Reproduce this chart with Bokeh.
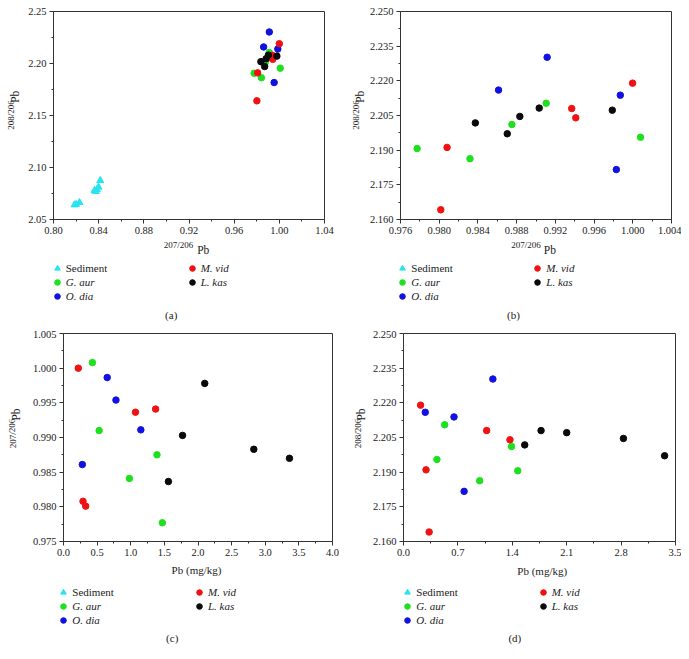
from bokeh.plotting import figure
from bokeh.layouts import column, row
from bokeh.models import Range1d, FixedTicker, NumeralTickFormatter, Label, Legend, LegendItem
from bokeh.embed import file_html
from bokeh.resources import INLINE

FONT = "Liberation Serif"

# ---------------- data ----------------
sed_r76 = [0.8186, 0.8200, 0.8230, 0.8363, 0.8375, 0.8384, 0.8399, 0.8414]
sed_r86 = [2.0641, 2.0645, 2.0663, 2.0779, 2.0770, 2.0788, 2.0811, 2.0875]

mvid_pb = [0.22, 0.29, 0.33, 1.07, 1.37]
mvid_r76 = [1.0000, 0.9808, 0.9801, 0.99365, 0.9941]
mvid_r86 = [2.2190, 2.1910, 2.1641, 2.2080, 2.2040]

gaur_pb = [0.43, 0.53, 0.98, 1.39, 1.47]
gaur_r76 = [1.0008, 0.9910, 0.9841, 0.9875, 0.9777]
gaur_r86 = [2.1955, 2.2105, 2.1863, 2.2011, 2.1906]

odia_pb = [0.28, 0.65, 0.78, 1.15]
odia_r76 = [0.9861, 0.99865, 0.9954, 0.9911]
odia_r86 = [2.2159, 2.2139, 2.1817, 2.2303]

lkas_pb = [1.56, 1.77, 2.10, 2.83, 3.36]
lkas_r76 = [0.98365, 0.9903, 0.9978, 0.9883, 0.9870]
lkas_r86 = [2.2018, 2.2080, 2.2071, 2.2046, 2.1971]

# values as drawn in panel (b)
b_mvid_r76 = [0.98016, 0.98081, 0.99369, 0.99411, 0.99998]
b_mvid_r86 = [2.1642, 2.1912, 2.2080, 2.2040, 2.2190]
b_gaur_r76 = [0.97772, 0.98318, 0.98751, 0.99105, 1.00080]
b_gaur_r86 = [2.1907, 2.1863, 2.2011, 2.2103, 2.1956]
b_odia_r76 = [0.98613, 0.99115, 0.99830, 0.99871]
b_odia_r86 = [2.2160, 2.2302, 2.1816, 2.2138]
b_lkas_r76 = [0.98373, 0.98703, 0.98833, 0.99033, 0.99788]
b_lkas_r86 = [2.2018, 2.1971, 2.2046, 2.2082, 2.2073]

legend_names = ["Sediment", "G. aur", "O. dia", "M. vid", "L. kas"]
captions = ["(a)", "(b)", "(c)", "(d)"]

xt_a = [0.80, 0.84, 0.88, 0.92, 0.96, 1.00, 1.04]
yt_a = [2.05, 2.10, 2.15, 2.20, 2.25]
xt_b = [0.976, 0.980, 0.984, 0.988, 0.992, 0.996, 1.000, 1.004]
yt_b = [2.160, 2.175, 2.190, 2.205, 2.220, 2.235, 2.250]
xt_c = [0.0, 0.5, 1.0, 1.5, 2.0, 2.5, 3.0, 3.5, 4.0]
yt_c = [0.975, 0.980, 0.985, 0.990, 0.995, 1.000, 1.005]
xt_d = [0.0, 0.7, 1.4, 2.1, 2.8, 3.5]
yt_d = [2.160, 2.175, 2.190, 2.205, 2.220, 2.235, 2.250]

COL = {"Sediment": "#26E4F0", "G. aur": "#1EE01E", "O. dia": "#1212E0",
       "M. vid": "#F01212", "L. kas": "#0A0A0A"}
TXT = "#222222"
NAN = float("nan")


def mids(t):
    return [(t[i] + t[i + 1]) / 2 for i in range(len(t) - 1)]


def make_fig(w, h, borders, xt, yt, xfmt, yfmt):
    l, r, t, b = borders
    p = figure(width=w, height=h, output_backend="svg", toolbar_location=None,
               x_range=Range1d(xt[0], xt[-1]), y_range=Range1d(yt[0], yt[-1]),
               min_border_left=l, min_border_right=r, min_border_top=t, min_border_bottom=b)
    p.xgrid.visible = False
    p.ygrid.visible = False
    p.outline_line_color = "#333333"
    p.outline_line_width = 1
    p.background_fill_color = "white"
    p.border_fill_color = "white"
    p.xaxis.ticker = FixedTicker(ticks=xt, minor_ticks=mids(xt))
    p.yaxis.ticker = FixedTicker(ticks=yt, minor_ticks=mids(yt))
    p.xaxis.formatter = NumeralTickFormatter(format=xfmt)
    p.yaxis.formatter = NumeralTickFormatter(format=yfmt)
    for ax in (p.xaxis[0], p.yaxis[0]):
        ax.axis_line_color = "#333333"
        ax.major_tick_line_color = "#333333"
        ax.minor_tick_line_color = "#333333"
        ax.major_tick_out = 4
        ax.major_tick_in = 0
        ax.minor_tick_out = 2
        ax.minor_tick_in = 0
        ax.major_label_text_font = FONT
        ax.major_label_text_font_size = "10.5px"
        ax.major_label_text_color = TXT
    p.xaxis.major_label_standoff = 3
    p.yaxis.major_label_standoff = 3
    return p


def canvas_fig(w, h):
    """Blank figure whose frame is the whole canvas; data units = pixels from top-left."""
    p = figure(width=w, height=h, output_backend="svg", toolbar_location=None,
               x_range=Range1d(0, w), y_range=Range1d(h, 0),
               x_axis_location=None, y_axis_location=None,
               min_border=0, min_border_left=0, min_border_right=0,
               min_border_top=0, min_border_bottom=0)
    p.xgrid.visible = False
    p.ygrid.visible = False
    p.outline_line_color = None
    p.background_fill_color = "white"
    p.border_fill_color = "white"
    return p


def add_text(p, text, x, y, size, align="left", angle=0.0, style="normal"):
    p.add_layout(Label(x=x, y=y, text=text, text_font=FONT, text_font_size=size,
                       text_align=align, text_baseline="middle", angle=angle,
                       text_color=TXT, text_font_style=style))


def plot_series(p, data):
    for name, xs, ys in data:
        if name == "Sediment":
            p.scatter(xs, ys, marker="triangle", size=7, fill_color=COL[name],
                      line_color=COL[name])
        else:
            p.scatter(xs, ys, marker="circle", size=6.5, fill_color=COL[name],
                      line_color=COL[name])


def add_legends(p, h, c1x, c2x, ys):
    # legend keys only: one undrawn (NaN) point per series
    rends = {}
    for n in legend_names:
        mk = "triangle" if n == "Sediment" else "circle"
        rends[n] = p.scatter([NAN], [NAN], marker=mk, fill_color=COL[n], line_color=COL[n])

    def leg(names, mx, ytop, style):
        bottom = ytop - 7 + 14 * len(names)
        L = Legend(items=[LegendItem(label=n, renderers=[rends[n]]) for n in names],
                   location=(mx - 7, h - bottom), orientation="vertical",
                   glyph_width=14, glyph_height=14, label_height=14, label_width=10,
                   spacing=0, padding=0, margin=0, label_standoff=2,
                   border_line_color=None, background_fill_alpha=0,
                   label_text_font=FONT, label_text_font_size="11px",
                   label_text_font_style=style, label_text_color=TXT)
        p.add_layout(L)
    leg([legend_names[0]], c1x, ys[0], "normal")
    leg(legend_names[1:3], c1x, ys[1], "italic")
    leg(legend_names[3:5], c2x, ys[0], "italic")


def y_label_fig(w, h, x_pb, x_sup, y_pb, y_sup, sup):
    p = canvas_fig(w, h)
    add_text(p, "Pb", x_pb, y_pb, "11.5px", align="center", angle=1.5708)
    add_text(p, sup, x_sup, y_sup, "9px", align="center", angle=1.5708)
    return p


# row 1: plot figs 0..239, bottom strips 239..330 ; row 2: plot figs 330..561, strips 561..651
# ---------- panel (a) ----------
ya = y_label_fig(24, 239, 14.8, 10.8, 98, 119, "208/206")
pa = make_fig(321, 239, (29, 21, 11, 20), xt_a, yt_a, "0.00", "0.00")
plot_series(pa, [("Sediment", sed_r76, sed_r86), ("G. aur", gaur_r76, gaur_r86),
                 ("O. dia", odia_r76, odia_r86), ("M. vid", mvid_r76, mvid_r86),
                 ("L. kas", lkas_r76, lkas_r86)])
ba = canvas_fig(345, 91)
add_text(ba, "207/206", 163.3, 5.5, "9px")
add_text(ba, "Pb", 196.7, 10, "11.5px")
add_legends(ba, 91, 56.7, 191.7, [29.3, 43.3])
add_text(ba, captions[0], 170.7, 75, "11px", align="center")

# ---------- panel (b) ----------
yb = y_label_fig(21, 239, 14.3, 10.8, 98, 119, "208/206")
pb = make_fig(315, 239, (33, 10, 11, 20), xt_b, yt_b, "0.000", "0.000")
plot_series(pb, [("Sediment", sed_r76, sed_r86), ("G. aur", b_gaur_r76, b_gaur_r86),
                 ("O. dia", b_odia_r76, b_odia_r86), ("M. vid", b_mvid_r76, b_mvid_r86),
                 ("L. kas", b_lkas_r76, b_lkas_r86)])
bb = canvas_fig(336, 91)
add_text(bb, "207/206", 165.7, 5.5, "9px")
add_text(bb, "Pb", 198.3, 10, "11.5px")
add_legends(bb, 91, 57.3, 192.3, [29.3, 43.3])
add_text(bb, captions[1], 168, 75, "11px", align="center")

# ---------- panel (c) ----------
yc = y_label_fig(29, 231, 15, 12, 90, 111, "207/206")
pc = make_fig(316, 231, (31, 13, 3, 20), xt_c, yt_c, "0.0", "0.000")
plot_series(pc, [("G. aur", gaur_pb, gaur_r76), ("O. dia", odia_pb, odia_r76),
                 ("M. vid", mvid_pb, mvid_r76), ("L. kas", lkas_pb, lkas_r76)])
bc = canvas_fig(345, 90)
add_text(bc, "Pb (mg/kg)", 196, 8.5, "11px", align="center")
add_legends(bc, 90, 63.3, 199, [30.7, 44.5])
add_text(bc, captions[2], 171.7, 76.3, "11px", align="center")

# ---------- panel (d) ----------
yd = y_label_fig(21, 231, 15.3, 12.3, 90, 111, "208/206")
pd_ = make_fig(315, 231, (37, 6, 3, 20), xt_d, yt_d, "0.0", "0.000")
plot_series(pd_, [("G. aur", gaur_pb, gaur_r86), ("O. dia", odia_pb, odia_r86),
                  ("M. vid", mvid_pb, mvid_r86), ("L. kas", lkas_pb, lkas_r86)])
bd = canvas_fig(336, 90)
add_text(bd, "Pb (mg/kg)", 196.7, 9, "11px", align="center")
add_legends(bd, 90, 62.3, 197.7, [30.7, 44.5])
add_text(bd, captions[3], 169.3, 76.3, "11px", align="center")

panel_a = column(row(ya, pa), ba)
panel_b = column(row(yb, pb), bb)
panel_c = column(row(yc, pc), bc)
panel_d = column(row(yd, pd_), bd)
layout = column(row(panel_a, panel_b), row(panel_c, panel_d))
open("out.html", "w").write(file_html(layout, INLINE))
